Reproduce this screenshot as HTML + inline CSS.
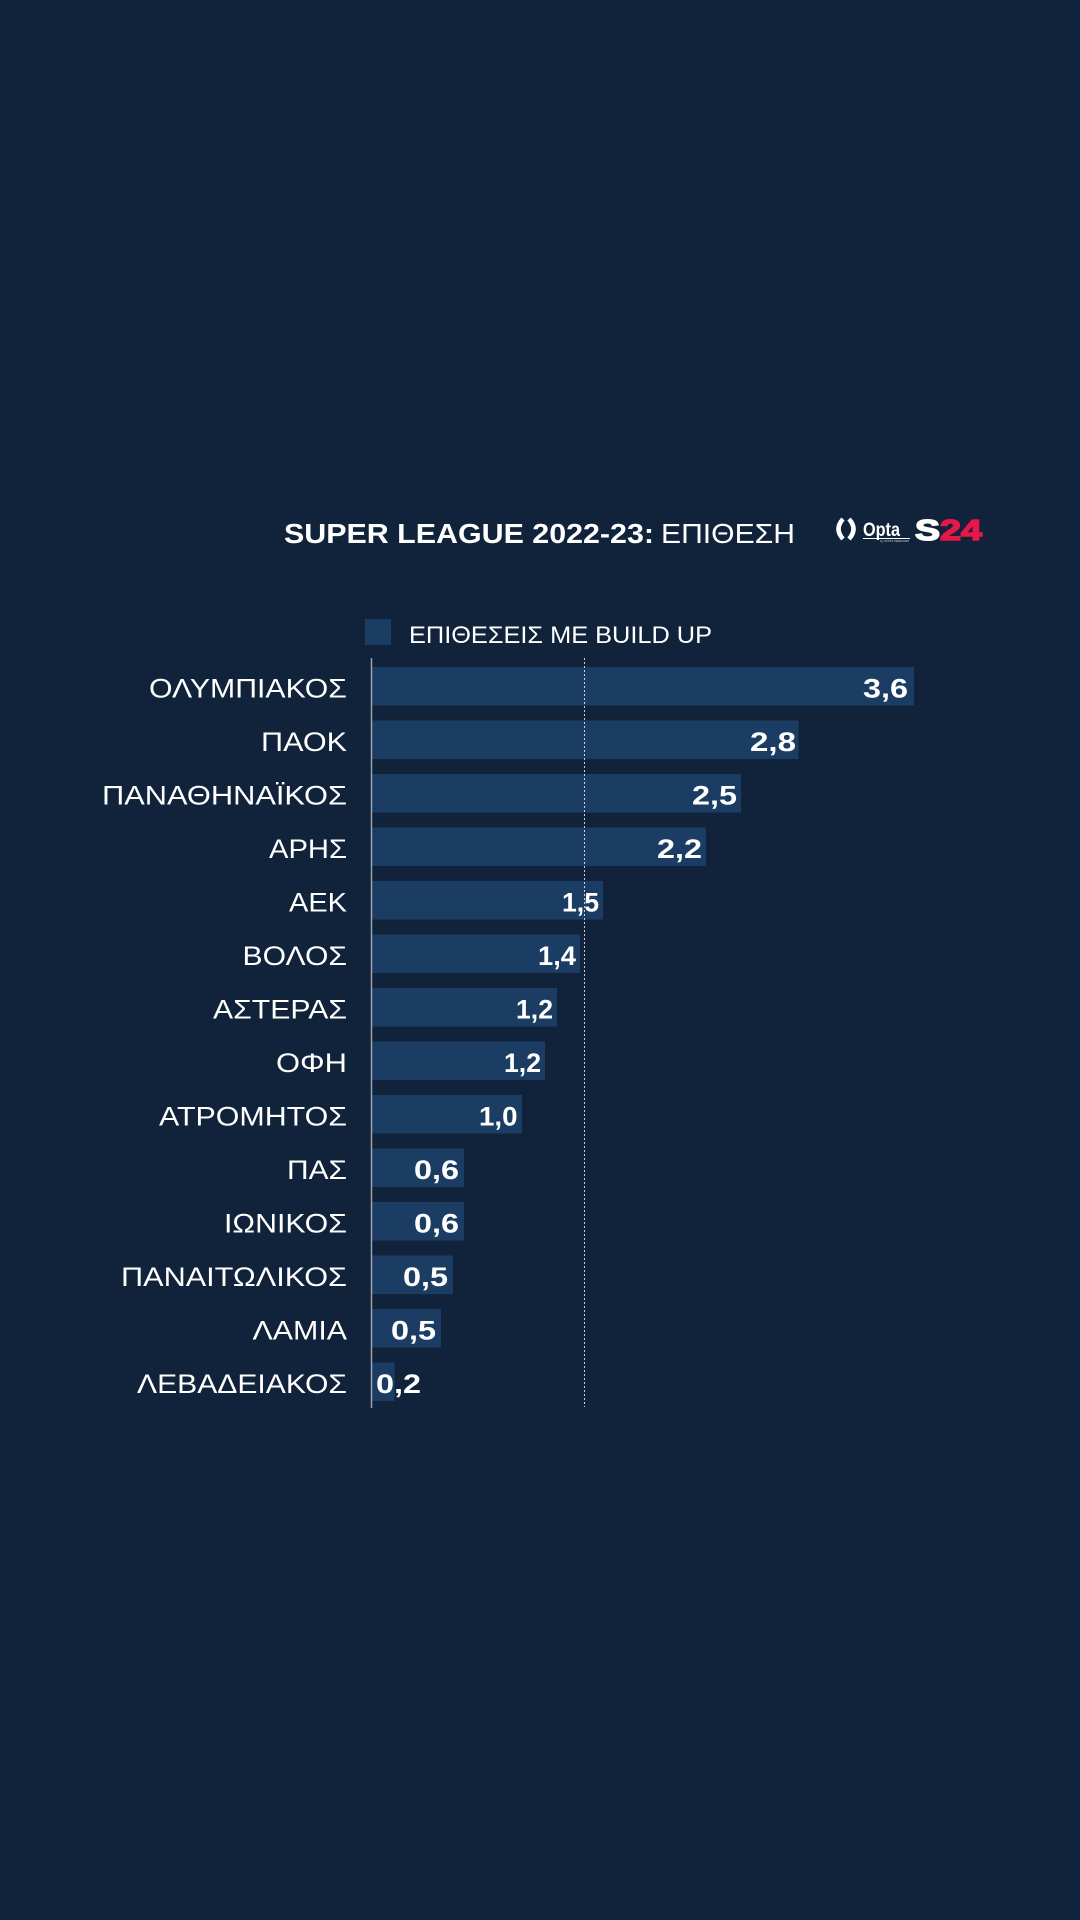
<!DOCTYPE html>
<html><head><meta charset="utf-8"><style>
html,body{margin:0;padding:0;background:#11233a;}
svg{display:block;}
</style></head><body>
<svg width="1080" height="1920" viewBox="0 0 1080 1920" xmlns="http://www.w3.org/2000/svg">
<rect x="0" y="0" width="1080" height="1920" fill="#11233a"/>
<!-- title -->
<text x="284" y="543" font-family="Liberation Sans, sans-serif" font-weight="bold" font-size="28" fill="#ffffff" textLength="370" lengthAdjust="spacingAndGlyphs">SUPER LEAGUE 2022-23:</text>
<text x="661" y="543" font-family="Liberation Sans, sans-serif" font-size="28" fill="#ffffff" textLength="134" lengthAdjust="spacingAndGlyphs">ΕΠΙΘΕΣΗ</text>
<!-- opta logo -->
<path d="M843 519 Q834 529 843 539" stroke="#fff" stroke-width="4.5" fill="none"/>
<path d="M849 519 Q858 529 849 539" stroke="#fff" stroke-width="4.5" fill="none"/>
<text x="863" y="536" font-family="Liberation Sans, sans-serif" font-weight="bold" font-size="19" fill="#ffffff" textLength="37" lengthAdjust="spacingAndGlyphs">Opta</text>
<line x1="863" y1="538.5" x2="910" y2="538.5" stroke="#fff" stroke-width="1"/>
<text x="880" y="542" font-family="Liberation Sans, sans-serif" font-size="3" fill="#cfd6de">by STATS PERFORM</text>
<!-- S24 -->
<text x="915" y="540" font-family="Liberation Sans, sans-serif" font-weight="bold" font-size="29" fill="#ffffff" stroke="#ffffff" stroke-width="1.5" textLength="25" lengthAdjust="spacingAndGlyphs">S</text>
<text x="940" y="540" font-family="Liberation Sans, sans-serif" font-weight="bold" font-size="29" fill="#e8174a" stroke="#e8174a" stroke-width="1.5" textLength="42" lengthAdjust="spacingAndGlyphs">24</text>
<!-- legend -->
<rect x="365" y="619" width="26" height="26" fill="#1b3d63"/>
<text x="409" y="643" font-family="Liberation Sans, sans-serif" font-size="24" fill="#ffffff" textLength="303" lengthAdjust="spacingAndGlyphs">ΕΠΙΘΕΣΕΙΣ ΜΕ BUILD UP</text>

<!-- bars -->
<g fill="#1b3d63">
<rect x="372" y="667" width="542" height="38.5"/>
<rect x="372" y="720.5" width="426.5" height="38.5"/>
<rect x="372" y="774" width="369" height="38.5"/>
<rect x="372" y="827.5" width="334" height="38.5"/>
<rect x="372" y="881" width="231" height="38.5"/>
<rect x="372" y="934.5" width="208" height="38.5"/>
<rect x="372" y="988" width="185" height="38.5"/>
<rect x="372" y="1041.5" width="173" height="38.5"/>
<rect x="372" y="1095" width="150" height="38.5"/>
<rect x="372" y="1148.5" width="92" height="38.5"/>
<rect x="372" y="1202" width="92" height="38.5"/>
<rect x="372" y="1255.5" width="81" height="38.5"/>
<rect x="372" y="1309" width="69" height="38.5"/>
<rect x="372" y="1362.5" width="22.6" height="38.5"/>
</g>
<!-- axis & avg line -->
<line x1="371.5" y1="658" x2="371.5" y2="1408" stroke="#9aa3ae" stroke-width="1.5"/>
<line x1="584.5" y1="658" x2="584.5" y2="1407" stroke="#c9d0d8" stroke-width="1" stroke-dasharray="2,2"/>

<!-- labels -->
<g font-family="Liberation Sans, sans-serif" font-size="27" fill="#ffffff" text-anchor="end">
<text x="347" y="697.5" textLength="198" lengthAdjust="spacingAndGlyphs">ΟΛΥΜΠΙΑΚΟΣ</text>
<text x="347" y="751" textLength="86" lengthAdjust="spacingAndGlyphs">ΠΑΟΚ</text>
<text x="347" y="804.5" textLength="245" lengthAdjust="spacingAndGlyphs">ΠΑΝΑΘΗΝΑΪΚΟΣ</text>
<text x="347" y="858" textLength="78" lengthAdjust="spacingAndGlyphs">ΑΡΗΣ</text>
<text x="347" y="911.5" textLength="58" lengthAdjust="spacingAndGlyphs">ΑΕΚ</text>
<text x="347" y="965" textLength="104.5" lengthAdjust="spacingAndGlyphs">ΒΟΛΟΣ</text>
<text x="347" y="1018.5" textLength="134" lengthAdjust="spacingAndGlyphs">ΑΣΤΕΡΑΣ</text>
<text x="347" y="1072" textLength="71" lengthAdjust="spacingAndGlyphs">ΟΦΗ</text>
<text x="347" y="1125.5" textLength="188" lengthAdjust="spacingAndGlyphs">ΑΤΡΟΜΗΤΟΣ</text>
<text x="347" y="1179" textLength="60" lengthAdjust="spacingAndGlyphs">ΠΑΣ</text>
<text x="347" y="1232.5" textLength="123" lengthAdjust="spacingAndGlyphs">ΙΩΝΙΚΟΣ</text>
<text x="347" y="1286" textLength="226" lengthAdjust="spacingAndGlyphs">ΠΑΝΑΙΤΩΛΙΚΟΣ</text>
<text x="347" y="1339.5" textLength="94.5" lengthAdjust="spacingAndGlyphs">ΛΑΜΙΑ</text>
<text x="347" y="1393" textLength="210" lengthAdjust="spacingAndGlyphs">ΛΕΒΑΔΕΙΑΚΟΣ</text>
</g>

<!-- values -->
<g font-family="Liberation Sans, sans-serif" font-size="27" font-weight="bold" fill="#ffffff">
<text x="863" y="697.5" textLength="45" lengthAdjust="spacingAndGlyphs">3,6</text>
<text x="750" y="751" textLength="46" lengthAdjust="spacingAndGlyphs">2,8</text>
<text x="692" y="804.5" textLength="45" lengthAdjust="spacingAndGlyphs">2,5</text>
<text x="657" y="858" textLength="45" lengthAdjust="spacingAndGlyphs">2,2</text>
<text x="562" y="911.5" textLength="37" lengthAdjust="spacingAndGlyphs">1,5</text>
<text x="538" y="965" textLength="38" lengthAdjust="spacingAndGlyphs">1,4</text>
<text x="516" y="1018.5" textLength="37" lengthAdjust="spacingAndGlyphs">1,2</text>
<text x="504" y="1072" textLength="37" lengthAdjust="spacingAndGlyphs">1,2</text>
<text x="479" y="1125.5" textLength="38.5" lengthAdjust="spacingAndGlyphs">1,0</text>
<text x="414" y="1179" textLength="45" lengthAdjust="spacingAndGlyphs">0,6</text>
<text x="414" y="1232.5" textLength="45" lengthAdjust="spacingAndGlyphs">0,6</text>
<text x="403" y="1286" textLength="45" lengthAdjust="spacingAndGlyphs">0,5</text>
<text x="391" y="1339.5" textLength="45" lengthAdjust="spacingAndGlyphs">0,5</text>
<text x="376" y="1393" textLength="45" lengthAdjust="spacingAndGlyphs">0,2</text>
</g>
</svg>
</body></html>
